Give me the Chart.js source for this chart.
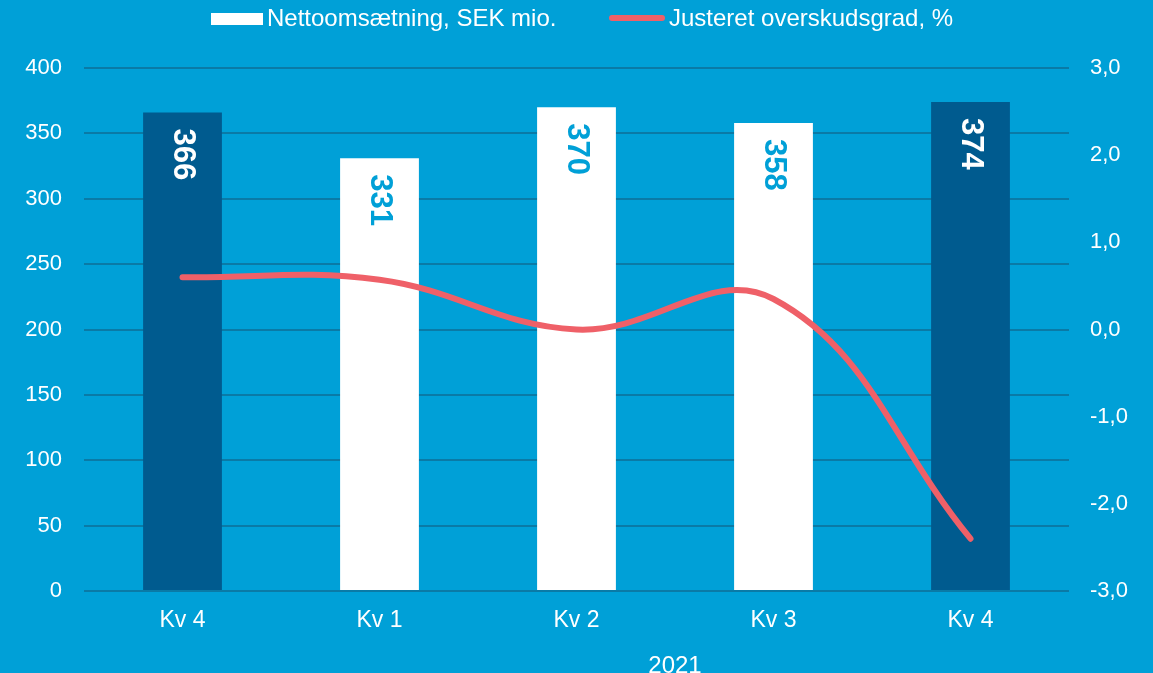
<!DOCTYPE html>
<html>
<head>
<meta charset="utf-8">
<script src="https://cdn.jsdelivr.net/npm/chart.js@4.4.0/dist/chart.umd.min.js"></script>
<style>
  html, body { margin: 0; padding: 0; background: #00a0d7; }
  canvas { display: block; }
</style>
</head>
<body>
<canvas id="revenueChart" width="1153" height="673"></canvas>
<script>
const quarters = ['Kv 4', 'Kv 1', 'Kv 2', 'Kv 3', 'Kv 4'];
const netSales = [366, 331, 370, 358, 374];
const adjMargin = [0.6, 0.57, 0.0, 0.35, -2.4];
const yearLabel = '2021';
const yearSpan = [1, 4]; // Kv 1 .. Kv 4 belong to 2021
const salesLabel = 'Nettoomsætning, SEK mio.';
const marginLabel = 'Justeret overskudsgrad, %';

const BG = '#00a0d7';
const DARK = '#005b8f';
const RED = '#ef6068';
const GRID = '#0a7aa6';
const FONT = 'Liberation Sans, Arial, sans-serif';

const barColors = netSales.map((v, i) => (i === 0 || i === netSales.length - 1) ? DARK : '#ffffff');
const labelColors = barColors.map(c => c === DARK ? '#ffffff' : BG);

// draws the rotated value labels, the year label and the legend
const extras = {
  id: 'extras',
  beforeDraw(chart) {
    const ctx = chart.ctx;
    ctx.save();
    ctx.fillStyle = BG;
    ctx.fillRect(0, 0, chart.width, chart.height);
    ctx.restore();
  },
  afterDatasetsDraw(chart) {
    const ctx = chart.ctx;
    const meta = chart.getDatasetMeta(0);
    ctx.save();
    ctx.font = 'bold 31px ' + FONT;
    ctx.textAlign = 'left';
    ctx.textBaseline = 'middle';
    meta.data.forEach((bar, i) => {
      ctx.save();
      ctx.translate(bar.x, bar.y + 16);
      ctx.rotate(Math.PI / 2);
      ctx.fillStyle = labelColors[i];
      ctx.fillText(String(netSales[i]), 0, 0);
      ctx.restore();
    });
    ctx.restore();
  },
  afterDraw(chart) {
    const ctx = chart.ctx;
    const x = chart.scales.x;
    ctx.save();
    ctx.fillStyle = '#ffffff';
    ctx.font = '24px ' + FONT;
    ctx.textAlign = 'center';
    ctx.textBaseline = 'alphabetic';
    const mid = (x.getPixelForValue(yearSpan[0]) + x.getPixelForValue(yearSpan[1])) / 2;
    ctx.fillText(yearLabel, mid, 673);

    // legend
    ctx.textAlign = 'left';
    ctx.fillRect(211, 13, 52, 12);
    ctx.fillText(salesLabel, 267, 26);
    ctx.strokeStyle = RED;
    ctx.lineWidth = 6;
    ctx.lineCap = 'round';
    ctx.beginPath();
    ctx.moveTo(612, 18);
    ctx.lineTo(662, 18);
    ctx.stroke();
    ctx.fillText(marginLabel, 669, 26);
    ctx.restore();
  }
};

const data = {
  labels: quarters,
  datasets: [{
    type: 'bar',
    label: salesLabel,
    data: netSales,
    yAxisID: 'y',
    backgroundColor: barColors,
    barPercentage: 0.4,
    categoryPercentage: 1.0,
    order: 1
  }, {
    type: 'line',
    label: marginLabel,
    data: adjMargin,
    yAxisID: 'y1',
    borderColor: RED,
    borderWidth: 6,
    borderCapStyle: 'round',
    pointRadius: 0,
    tension: 0.4,
    fill: false,
    order: 0
  }]
};

const config = {
  data: data,
  options: {
    responsive: false,
    animation: false,
    layout: { padding: { top: 68, left: 0, right: 0, bottom: 0 } },
    plugins: {
      legend: { display: false },
      tooltip: { enabled: false }
    },
    scales: {
      x: {
        grid: { display: false, drawTicks: false },
        border: { display: false },
        ticks: { color: '#ffffff', font: { family: FONT, size: 23 }, padding: 16 },
        afterFit(scale) { scale.height = 82; }
      },
      y: {
        position: 'left',
        min: 0,
        max: 400,
        ticks: { stepSize: 50, color: '#ffffff', font: { family: FONT, size: 22 }, padding: 22 },
        grid: { color: GRID, lineWidth: 2, drawTicks: false },
        border: { display: false },
        afterFit(scale) { scale.width = 84; }
      },
      y1: {
        position: 'right',
        min: -3,
        max: 3,
        ticks: {
          stepSize: 1,
          color: '#ffffff',
          font: { family: FONT, size: 22 },
          padding: 21,
          callback: v => v.toFixed(1).replace('.', ',')
        },
        grid: { display: false, drawTicks: false },
        border: { display: false },
        afterFit(scale) { scale.width = 84; }
      }
    }
  },
  plugins: [extras]
};

const revenueChart = new Chart(document.getElementById('revenueChart'), config);
</script>
</body>
</html>
